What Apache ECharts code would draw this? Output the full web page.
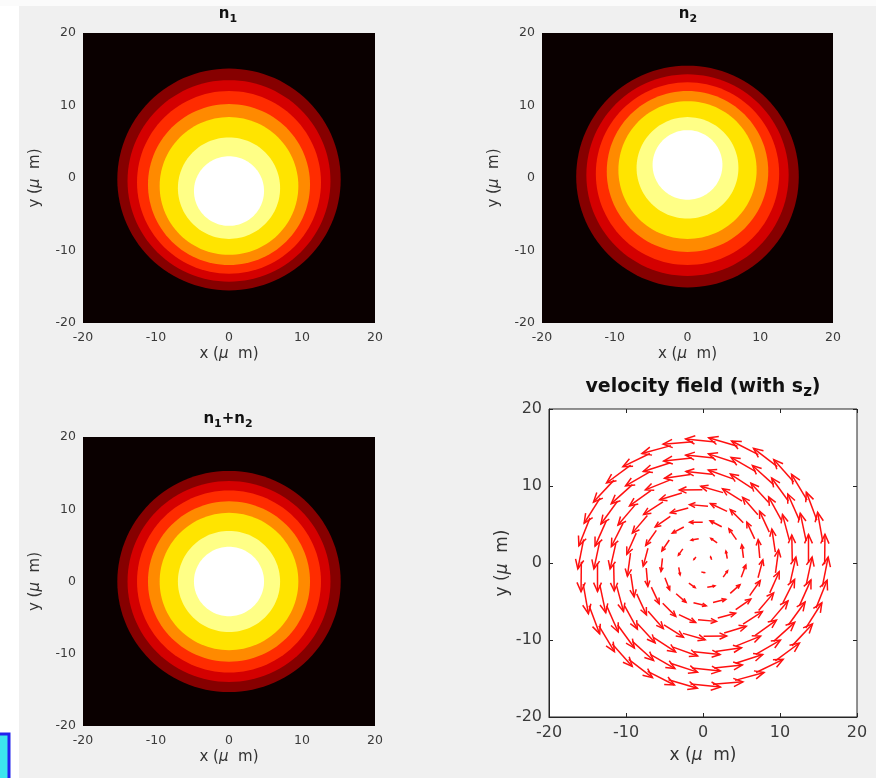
<!DOCTYPE html>
<html>
<head>
<meta charset="utf-8">
<script src="https://cdn.jsdelivr.net/npm/echarts@6/dist/echarts.min.js"></script>
<style>
  html, body { margin: 0; padding: 0; background: #f0f0f0; }
  #chart { width: 876px; height: 778px; }
</style>
</head>
<body>
<div id="chart"></div>
<script>
// ticks shared by all four panels
var axisTicks = [-20, -10, 0, 10, 20];

// filled contour bands (outside -> centre), radius in um
var bandRadius = [15.3, 13.9, 12.6, 11.1, 9.5, 7.0, 4.8];
var bandColors = ['#860000', '#d40000', '#ff2c00', '#ff8a00', '#ffe400', '#ffff86', '#ffffff'];
// centre of each band (y, um) for n1, n2 and n1+n2
var n1CenterY = [-0.2, -0.4, -0.6, -0.9, -1.1, -1.4, -1.8];
var n2CenterY = [0.2, 0.4, 0.6, 0.9, 1.1, 1.4, 1.8];
var sumCenterY = [0, 0, 0, 0, 0, 0, 0];

// velocity field: arrows sit on rings round the core
var ringRadius = [1.2, 3.2, 5.3, 7.4, 9.5, 11.6, 13.7, 15.8];
var ringCount = [3, 8, 13, 18, 22, 26, 30, 34];
var ringArrowLen = [0.4, 1.0, 1.7, 2.4, 3.0, 3.4, 3.7, 3.9];
var ringPhase = [20, 10, 35, 5, 25, 15, 0, 10];

var FONT = 'DejaVu Sans';

function bandData(centerY) {
    var out = [];
    for (var i = 0; i < bandRadius.length; i++) {
        out.push([0, centerY[i], bandRadius[i], i]);
    }
    return out;
}

var quiverData = [];
for (var i = 0; i < ringRadius.length; i++) {
    for (var k = 0; k < ringCount[i]; k++) {
        var a = (ringPhase[i] + k * 360 / ringCount[i]) * Math.PI / 180;
        var x = ringRadius[i] * Math.cos(a);
        var y = ringRadius[i] * Math.sin(a);
        // counter-clockwise flow
        quiverData.push([x, y, -ringArrowLen[i] * Math.sin(a), ringArrowLen[i] * Math.cos(a)]);
    }
}

function renderBand(params, api) {
    var cx = api.value(0), cy = api.value(1), r = api.value(2);
    var pts = [];
    for (var k = 0; k < 120; k++) {
        var t = k / 120 * 2 * Math.PI;
        pts.push(api.coord([cx + r * Math.cos(t), cy + r * Math.sin(t)]));
    }
    return {
        type: 'polygon',
        shape: { points: pts },
        style: { fill: bandColors[api.value(3)] }
    };
}

function renderArrow(params, api) {
    var p0 = api.coord([api.value(0), api.value(1)]);
    var p1 = api.coord([api.value(0) + api.value(2), api.value(1) + api.value(3)]);
    var dx = p1[0] - p0[0], dy = p1[1] - p0[1];
    var len = Math.sqrt(dx * dx + dy * dy);
    var ang = Math.atan2(dy, dx);
    var h = len * 0.34, spread = 0.42;
    var left = [p1[0] - h * Math.cos(ang - spread), p1[1] - h * Math.sin(ang - spread)];
    var right = [p1[0] - h * Math.cos(ang + spread), p1[1] - h * Math.sin(ang + spread)];
    return {
        type: 'group',
        children: [
            { type: 'line', shape: { x1: p0[0], y1: p0[1], x2: p1[0], y2: p1[1] },
              style: { stroke: '#ff1010', lineWidth: 1.5 } },
            { type: 'polyline', shape: { points: [left, p1, right] },
              style: { stroke: '#ff1010', fill: null, lineWidth: 1.5 } }
        ]
    };
}

function nameStyle(size) {
    return { fontFamily: FONT, fontSize: size, color: '#333',
        rich: { mu: { fontFamily: FONT, fontSize: size, fontStyle: 'italic', color: '#333' } } };
}

function tickFormatter(v) {
    return axisTicks.indexOf(v) >= 0 ? String(v) : '';
}

function makeX(gridIndex, size, gap, nameSize, ticks) {
    return {
        gridIndex: gridIndex, type: 'value', min: -20, max: 20, interval: 10,
        name: 'x ({mu|μ}  m)', nameLocation: 'middle', nameGap: gap,
        nameTextStyle: nameStyle(nameSize),
        axisLine: { show: ticks, onZero: false, lineStyle: { color: '#262626', width: 1 } },
        axisTick: { show: ticks, inside: true, length: 4, lineStyle: { color: '#262626' } },
        axisLabel: { fontFamily: FONT, fontSize: size, color: '#3a3a3a', margin: 8, formatter: tickFormatter },
        splitLine: { show: false }
    };
}

function makeY(gridIndex, size, gap, nameSize, ticks) {
    return {
        gridIndex: gridIndex, type: 'value', min: -20, max: 20, interval: 10,
        name: 'y ({mu|μ}  m)', nameLocation: 'middle', nameGap: gap,
        nameTextStyle: nameStyle(nameSize),
        axisLine: { show: ticks, onZero: false, lineStyle: { color: '#262626', width: 1 } },
        axisTick: { show: ticks, inside: true, length: 4, lineStyle: { color: '#262626' } },
        axisLabel: { fontFamily: FONT, fontSize: size, color: '#3a3a3a', margin: 7, formatter: tickFormatter },
        splitLine: { show: false }
    };
}

function titleText(x, y, text, size) {
    return {
        type: 'text', x: x, y: y,
        style: {
            text: text, align: 'center', verticalAlign: 'middle',
            fontFamily: FONT, fontWeight: 'bold', fontSize: size, fill: '#111',
            rich: {
                b: { fontFamily: FONT, fontWeight: 'bold', fontSize: size, lineHeight: size + 6, verticalAlign: 'middle' },
                s: { fontFamily: FONT, fontWeight: 'bold', fontSize: size - 4, lineHeight: size - 2, verticalAlign: 'bottom' }
            }
        }
    };
}

var myChart = echarts.init(document.getElementById('chart'));
var option = {
    backgroundColor: '#f0f0f0',
    animation: false,
    graphic: [
        { type: 'rect', shape: { x: 0, y: 0, width: 19, height: 778 }, style: { fill: '#ffffff' } },
        { type: 'rect', shape: { x: 0, y: 0, width: 876, height: 6 }, style: { fill: '#fbfbfb' } },
        { type: 'rect', shape: { x: -3, y: 734, width: 12, height: 50 },
          style: { fill: '#3ce6ee', stroke: '#2222ee', lineWidth: 3 } },
        titleText(228, 14, '{b|n}{s|1}', 15),
        titleText(688, 14, '{b|n}{s|2}', 15),
        titleText(228, 419, '{b|n}{s|1}{b|+n}{s|2}', 15),
        titleText(703, 387, '{b|velocity field (with s}{s|z}{b|)}', 19)
    ],
    grid: [
        { left: 83, top: 33, width: 292, height: 290, show: true, backgroundColor: '#0a0000', borderWidth: 0 },
        { left: 542, top: 33, width: 291, height: 290, show: true, backgroundColor: '#0a0000', borderWidth: 0 },
        { left: 83, top: 437, width: 292, height: 289, show: true, backgroundColor: '#0a0000', borderWidth: 0 },
        { left: 549, top: 409, width: 308, height: 308, show: true, backgroundColor: '#ffffff',
          borderColor: '#262626', borderWidth: 1 }
    ],
    xAxis: [
        makeX(0, 12.5, 24, 15, false),
        makeX(1, 12.5, 24, 15, false),
        makeX(2, 12.5, 24, 15, false),
        makeX(3, 16, 30, 17, true),
        { gridIndex: 3, type: 'value', position: 'top', min: -20, max: 20, interval: 10,
          axisLine: { show: false, onZero: false }, axisLabel: { show: false }, splitLine: { show: false },
          axisTick: { show: true, inside: true, length: 4, lineStyle: { color: '#262626' } } }
    ],
    yAxis: [
        makeY(0, 12.5, 40, 15, false),
        makeY(1, 12.5, 40, 15, false),
        makeY(2, 12.5, 40, 15, false),
        makeY(3, 16, 38, 17, true),
        { gridIndex: 3, type: 'value', position: 'right', min: -20, max: 20, interval: 10,
          axisLine: { show: false, onZero: false }, axisLabel: { show: false }, splitLine: { show: false },
          axisTick: { show: true, inside: true, length: 4, lineStyle: { color: '#262626' } } }
    ],
    series: [
        { type: 'custom', name: 'n1', xAxisIndex: 0, yAxisIndex: 0, renderItem: renderBand,
          data: bandData(n1CenterY), clip: true, silent: true },
        { type: 'custom', name: 'n2', xAxisIndex: 1, yAxisIndex: 1, renderItem: renderBand,
          data: bandData(n2CenterY), clip: true, silent: true },
        { type: 'custom', name: 'n1+n2', xAxisIndex: 2, yAxisIndex: 2, renderItem: renderBand,
          data: bandData(sumCenterY), clip: true, silent: true },
        { type: 'custom', name: 'velocity', xAxisIndex: 3, yAxisIndex: 3, renderItem: renderArrow,
          data: quiverData, clip: true, silent: true }
    ]
};
myChart.setOption(option);
</script>
</body>
</html>
